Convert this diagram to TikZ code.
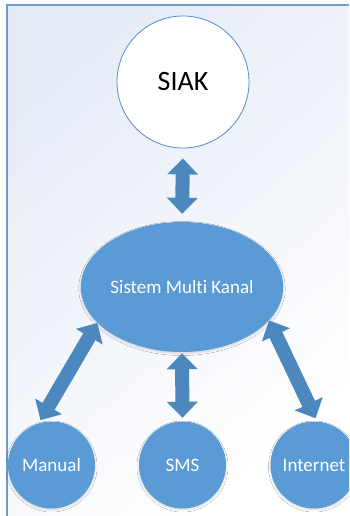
\documentclass[tikz,border=0pt]{standalone}
\usepackage{fontspec}
\setmainfont[Ligatures={NoCommon}]{Carlito}
\usetikzlibrary{arrows.meta,shapes.geometric,shadows.blur}
\definecolor{framec}{RGB}{111,155,208}
\definecolor{bgtop}{RGB}{230,236,247}
\definecolor{nodefill}{RGB}{91,155,213}
\definecolor{arrowfill}{RGB}{76,135,190}
\definecolor{siakline}{RGB}{84,139,200}
\tikzset{
  shadowed/.style={blur shadow={shadow blur steps=6, shadow xshift=0pt, shadow yshift=-1.5pt, shadow opacity=15, shadow blur radius=2pt}},
  bluecircle/.style={circle, minimum size=87pt, inner sep=0pt, fill=nodefill, text=white, font=\fontsize{19}{22}\selectfont, shadowed},
  bluebig/.style={ellipse, minimum width=196pt, minimum height=130pt, inner sep=0pt, fill=nodefill, text=white, font=\fontsize{19}{22}\selectfont, shadowed},
  whitecircle/.style={circle, minimum size=132pt, inner sep=0pt, fill=white, draw=siakline, line width=0.8pt, text=black, font=\fontsize{28}{32}\selectfont},
  blockarrow/.style={draw=arrowfill, line width=14pt, arrowfill,
    {Triangle[width=30pt,length=16pt]}-{Triangle[width=30pt,length=16pt]}}
}
\begin{document}
\begin{tikzpicture}[x=1pt,y=1pt]
\useasboundingbox (0,0) rectangle (349,516);
\clip (0,0) rectangle (349,516);
\fill[white] (0,0) rectangle (349,516);
\shade[top color=bgtop, bottom color=white, shading angle=40] (7,0) rectangle (349,511);
\draw[framec, line width=1.2pt] (7,0) -- (7,511) -- (349,511);

\node[whitecircle] (siak) at (183,434) {SIAK};
\node[bluebig] (sm) at (182,229) {Sistem Multi Kanal};
\node[bluecircle] (manual) at (51.5,51) {Manual};
\node[bluecircle] (sms) at (182.5,51) {SMS};
\node[bluecircle] (internet) at (314,51) {Internet};

\draw[blockarrow, shorten <=10pt, shorten >=8pt] (siak.south) -- (sm.north);
\draw[blockarrow, shorten <=1pt, shorten >=3.5pt] (sm.south) -- (sms.north);
\draw[blockarrow, shorten <=0pt, shorten >=3.5pt] (sm.203) -- (manual.107);
\draw[blockarrow, shorten <=0pt, shorten >=3.5pt] (sm.339) -- (internet.86);
\end{tikzpicture}
\end{document}
